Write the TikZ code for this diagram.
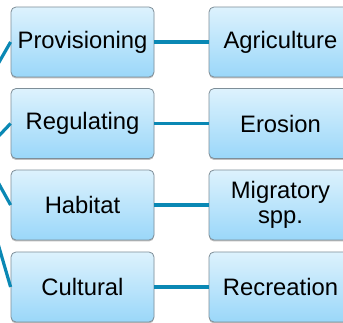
\documentclass[tikz,border=0pt]{standalone}
\usepackage{fontspec}
\setmainfont{Liberation Sans}
\usetikzlibrary{shadows}
\definecolor{linkc}{HTML}{0A88B4}
\definecolor{boxtop}{HTML}{DDF2FD}
\definecolor{boxbot}{HTML}{9AD7F9}
\definecolor{boxedge}{HTML}{7E8E98}
\begin{document}
\begin{tikzpicture}[x=1pt,y=-1pt,
  sbox/.style={draw=boxedge, line width=0.8pt, rounded corners=5pt,
    top color=boxtop, bottom color=boxbot,
    minimum width=143pt, minimum height=70pt, inner sep=0pt,
    align=center, font=\fontsize{23.8}{25}\selectfont,
    drop shadow={shadow xshift=0pt, shadow yshift=-1.5pt, opacity=0.25, fill=black}},
  link/.style={draw=linkc, line width=3.2pt}]
\useasboundingbox (0,0) rectangle (343,323);
\clip (0,0) rectangle (343,323);
% free ends of the left connectors
\coordinate (f1) at (-6,71);
\coordinate (f2) at (-6,141);
\coordinate (f3) at (-6,175);
\coordinate (f4) at (-6,230);
% boxes
\node[sbox] (a) at (82.5,42) {Provisioning};
\node[sbox] (b) at (82.5,123.5) {Regulating};
\node[sbox] (c) at (82.5,205) {Habitat};
\node[sbox] (d) at (82.5,287) {Cultural};
\node[sbox] (e) at (280.5,42) {Agriculture};
\node[sbox] (f) at (280.5,123.5) {Erosion};
\node[sbox] (g) at (280.5,205) {Migratory\\spp.};
\node[sbox] (h) at (280.5,287) {Recreation};
% connectors
\draw[link] (a.east) -- (e.west);
\draw[link] (b.east) -- (f.west);
\draw[link] (c.east) -- (g.west);
\draw[link] (d.east) -- (h.west);
\draw[link] (f1) -- (a.west);
\draw[link] (f2) -- (b.west);
\draw[link] (f3) -- (c.west);
\draw[link] (f4) -- (d.west);
\end{tikzpicture}
\end{document}
